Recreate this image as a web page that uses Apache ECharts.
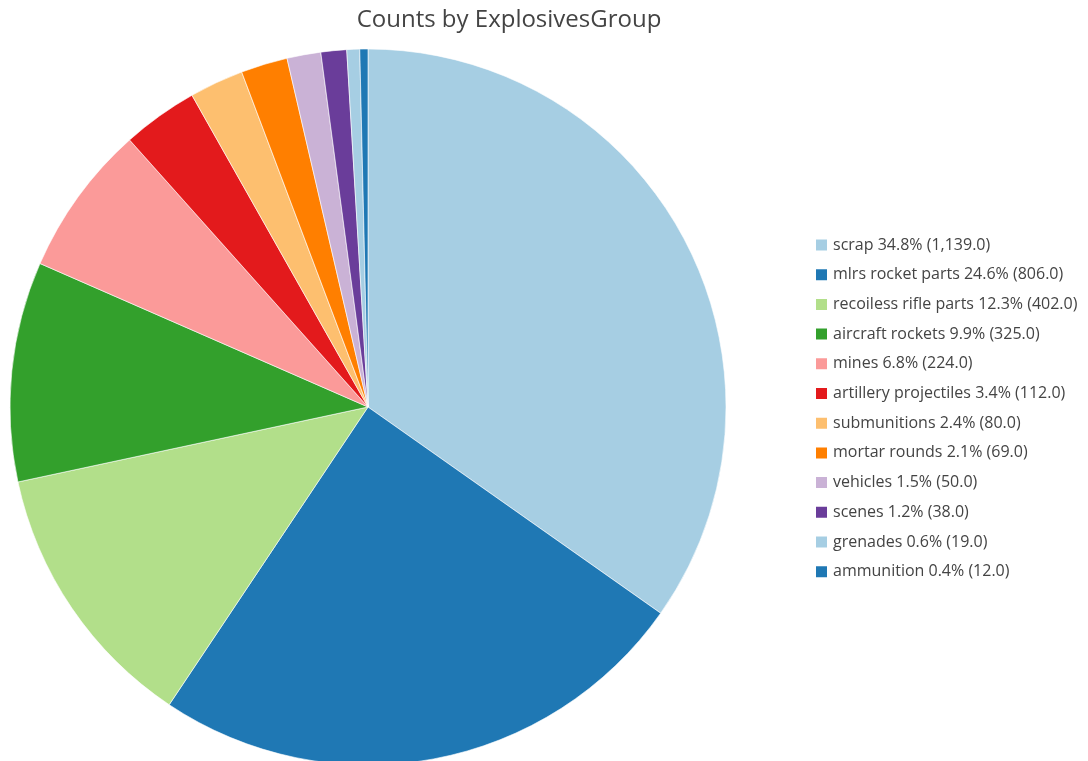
<!DOCTYPE html>
<html>
<head>
<meta charset="utf-8">
<script src="https://cdn.jsdelivr.net/npm/echarts@6/dist/echarts.min.js"></script>
<style>
html,body{margin:0;padding:0;background:#fff;}
#chart{width:1088px;height:761px;}
</style>
</head>
<body>
<div id="chart"></div>
<script>
const categories = ["scrap","mlrs rocket parts","recoiless rifle parts","aircraft rockets","mines","artillery projectiles","submunitions","mortar rounds","vehicles","scenes","grenades","ammunition"];
const counts = [1139,806,402,325,224,112,80,69,50,38,19,12];
const colors = ["#a6cee3","#1f78b4","#b2df8a","#33a02c","#fb9a99","#e31a1c","#fdbf6f","#ff7f00","#cab2d6","#6a3d9a","#a6cee3","#1f78b4"];
const titleText = "Counts by ExplosivesGroup";

const total = counts.reduce((a,b)=>a+b,0);
const lookup = {};
categories.forEach((c,i)=>{lookup[c]=counts[i];});

const chart = echarts.init(document.getElementById('chart'));
chart.setOption({
  animation:false,
  color: colors,
  title:{
    text:titleText,
    left:504, top:3, textAlign:'center',
    textStyle:{fontFamily:'Open Sans', fontSize:24, fontWeight:'normal', color:'#444'}
  },
  legend:{
    orient:'vertical',
    left:809, top:232,
    itemWidth:13, itemHeight:13, itemGap:13.7,
    icon:'rect',
    data: categories.map((c,i)=>({name:c, itemStyle:{color:colors[i]}})),
    textStyle:{fontFamily:'Open Sans', fontSize:16, color:'#444', lineHeight:16},
    formatter: function(name){
      const v = lookup[name];
      const pct = (v/total*100).toFixed(1);
      return name + ' ' + pct + '% (' + v.toLocaleString('en-US',{minimumFractionDigits:1,maximumFractionDigits:1}) + ')';
    }
  },
  series:[{
    type:'pie',
    center:[368,407],
    radius:358,
    startAngle:90,
    clockwise:true,
    label:{show:false},
    labelLine:{show:false},
    itemStyle:{borderColor:'#fff', borderWidth:0.6},
    data: categories.map((c,i)=>({name:c, value:counts[i], itemStyle:{color:colors[i]}}))
  }]
});
</script>
</body>
</html>
